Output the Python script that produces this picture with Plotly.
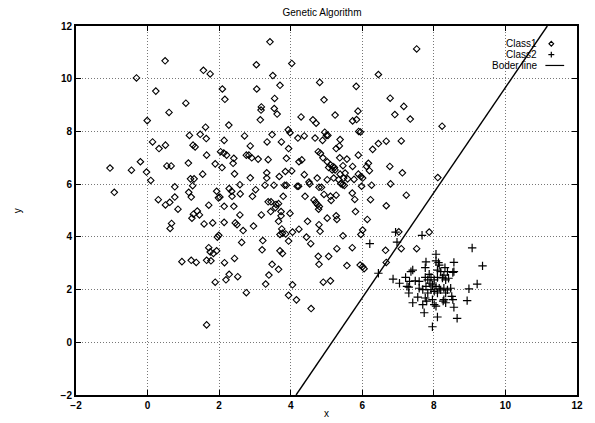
import plotly.graph_objects as go

# ---------------- data ----------------
class1_x = [0.49, -0.31, 0.23, 1.07, 0.60, -0.01, 1.17, 0.14, 0.50, 0.32, 1.27,
            3.42, 3.04, 4.03, 1.56, 1.75, 3.50, 4.81, 3.70, 2.09, 3.05, 2.16, 3.55, 4.93, 3.18, 3.17, 3.54, 3.62, 4.29, 3.15,
            4.62, 4.71, 1.62, 2.27, 1.47, 1.64, 3.93, 3.98, 3.48, 2.71, 4.95, 5.00, 4.38, 4.20, 4.68, 4.89, 2.14, 3.34, 3.74,
            2.87, 3.94, 1.33,
            7.52, 6.45, 5.83, 6.78, 7.16, 5.88, 5.24, 6.91, 5.84, 5.73, 7.34, 8.23, 5.90, 5.95, 5.04, 5.38, 5.36, 5.27, 6.45,
            6.67, 7.09, 6.29,
            -1.05, -0.20, -0.45, -0.03, 0.54, 0.66, 1.14, 0.09, 1.20, 1.30, 0.76, 1.26, -0.93, 1.15, 1.22, 0.76, 0.30, 0.62,
            0.50, 0.85, 1.39, 1.28, 1.24, 0.67, 0.63, 0.96, 1.22, 1.36,
            1.65, 2.04, 2.13, 2.21, 2.41, 2.76, 2.83, 2.91, 3.09, 3.37, 3.88, 4.23, 4.31, 4.77, 4.83, 4.90, 5.06, 1.89, 2.08,
            2.39, 1.54, 2.43, 2.87, 3.33, 3.85, 4.03, 3.68, 3.33, 4.38, 4.51, 4.74, 5.02, 1.93, 2.02, 1.98, 2.28, 2.35, 2.58,
            2.59, 2.36, 3.02, 2.93, 3.28, 3.53, 3.83, 3.88, 4.18, 4.22, 4.53, 4.79, 4.86, 4.93, 3.79, 3.37, 3.45, 3.59, 3.66,
            3.57, 4.40, 4.65, 4.70, 4.75, 4.80, 4.78, 1.71, 2.41, 2.14, 1.45, 2.58, 3.18, 3.73, 3.73, 3.44, 3.98, 3.66, 4.47,
            5.02, 4.79, 1.58, 1.82, 2.14, 2.45, 2.50, 2.96, 2.67, 1.99, 1.95, 2.63, 3.75, 3.77, 3.70, 3.86, 4.05, 4.23, 3.94,
            3.22, 4.44, 4.56, 4.82, 3.20, 3.70, 3.77, 1.71, 1.75, 1.84, 1.93, 2.43, 1.65, 1.77, 2.15, 3.48, 3.66, 4.77, 4.79,
            5.06,
            5.37, 5.57, 5.89, 5.02, 5.11, 5.18, 5.22, 5.16, 5.24, 5.46, 5.73, 6.17, 6.12, 6.20, 6.77, 7.12, 5.38, 5.52, 5.89,
            5.96, 6.01, 5.20, 5.34, 5.48, 5.59, 5.77, 5.40, 5.45, 5.50, 5.98, 6.26, 6.79, 8.11, 5.11, 5.13, 5.27, 5.72, 5.79,
            6.23, 7.23, 6.67, 5.81, 5.27, 5.29, 6.14, 6.01, 5.96, 5.46, 7.02, 7.87, 7.09, 5.29, 5.72, 6.65, 7.52, 6.67, 5.94,
            6.01, 6.05, 5.57,
            1.89, 2.19, 2.28, 2.52, 2.76, 1.65, 3.39, 3.30, 4.05, 3.94, 4.16, 4.57, 4.91, 5.11]
class1_y = [10.68, 10.03, 9.53, 9.07, 8.72, 8.41, 7.85, 7.60, 7.48, 7.35, 7.48,
            11.40, 10.53, 10.58, 10.32, 10.18, 10.12, 9.86, 9.75, 9.61, 9.61, 9.22, 9.25, 9.20, 8.93, 8.81, 8.87, 8.66, 8.55,
            8.44, 8.44, 8.31, 8.16, 8.24, 7.89, 7.73, 8.06, 7.95, 7.88, 7.83, 7.97, 7.85, 7.83, 7.75, 7.75, 7.66, 7.66, 7.60,
            7.60, 7.45, 7.35, 7.41,
            11.13, 10.16, 9.71, 9.26, 8.95, 8.77, 8.62, 8.64, 8.45, 8.40, 8.47, 8.20, 8.00, 7.98, 7.85, 7.69, 7.45, 7.35, 7.54,
            7.63, 7.64, 7.32,
            6.61, 6.85, 6.53, 6.46, 6.69, 6.69, 6.80, 6.14, 6.20, 6.20, 5.90, 5.94, 5.69, 5.69, 5.51, 5.51, 5.41, 5.31, 5.21,
            5.05, 4.98, 4.86, 4.71, 4.51, 4.32, 3.06, 3.11, 3.03,
            7.10, 7.23, 7.18, 7.10, 6.98, 7.10, 7.10, 7.00, 6.95, 6.93, 6.98, 6.85, 6.92, 7.23, 7.17, 7.00, 6.63, 6.77, 6.63,
            6.79, 6.38, 6.39, 6.24, 6.43, 6.48, 6.50, 6.29, 6.23, 6.36, 6.08, 6.23, 6.17, 5.73, 5.51, 5.48, 5.83, 5.73, 5.98,
            5.63, 5.54, 5.79, 5.54, 5.96, 5.96, 5.96, 5.96, 5.92, 5.92, 6.01, 5.88, 5.88, 5.61, 5.54, 5.33, 5.33, 5.23, 5.26,
            5.11, 5.54, 5.40, 5.30, 5.22, 5.15, 5.05, 5.20, 5.16, 5.16, 4.83, 4.83, 4.83, 4.96, 4.80, 4.96, 4.89, 4.59, 4.59,
            4.71, 4.46, 4.49, 4.53, 4.55, 4.53, 4.46, 4.41, 4.24, 4.06, 3.99, 3.79, 4.30, 4.14, 4.09, 4.11, 4.18, 4.29, 3.84,
            3.86, 3.99, 3.74, 4.21, 3.51, 3.47, 3.37, 3.59, 3.43, 3.37, 3.47, 3.18, 3.11, 3.09, 3.02, 2.96, 2.77, 3.26, 2.96,
            3.26,
            7.00, 6.95, 7.10, 6.85, 6.73, 6.67, 6.63, 6.54, 6.54, 6.70, 6.67, 6.79, 6.67, 6.51, 6.67, 6.43, 6.38, 6.42, 6.38,
            6.29, 6.23, 6.23, 6.17, 6.23, 6.20, 6.18, 6.02, 5.98, 5.95, 5.92, 5.96, 6.01, 6.25, 5.54, 5.38, 5.58, 5.66, 5.42,
            5.41, 5.58, 5.18, 4.96, 4.80, 4.66, 4.66, 4.26, 4.09, 4.04, 4.19, 4.18, 3.55, 3.55, 3.59, 3.49, 3.55, 3.03, 2.93,
            2.87, 2.79, 2.91,
            2.28, 2.37, 2.58, 2.49, 1.88, 0.66, 2.55, 2.21, 2.18, 1.78, 1.61, 1.28, 2.28, 2.33]

class2_x = [6.93, 7.67, 6.97, 6.21, 8.06, 8.06, 8.13, 7.78, 8.56, 7.41, 8.19, 8.56, 9.07, 9.36, 7.76, 6.45, 6.86, 7.21,
            7.32, 7.36, 7.04, 7.48, 7.59, 7.25, 7.30, 7.76, 7.83, 7.89, 8.01, 8.10, 8.28, 8.38, 8.41, 8.33, 8.24, 7.96,
            8.06, 8.15, 7.92, 8.01, 8.10, 8.19, 8.28, 8.38, 8.33, 8.47, 7.78, 7.69, 7.59, 7.83, 7.76, 7.80, 7.30, 7.55,
            7.41, 7.69, 7.73, 7.96, 8.01, 8.06, 8.28, 8.33, 8.26, 8.50, 8.53, 8.56, 8.10, 8.65, 7.96, 8.98, 9.21, 8.93,
            8.10, 8.15, 8.31, 8.53, 7.92, 7.87]
class2_y = [4.18, 4.06, 3.80, 3.74, 3.34, 3.09, 3.02, 3.05, 3.03, 2.74, 2.68, 2.68, 3.58, 2.90, 2.83, 2.62, 2.40, 2.46,
            2.31, 2.68, 2.24, 2.33, 2.31, 2.12, 2.09, 2.46, 2.37, 2.24, 2.37, 2.46, 2.55, 2.68, 2.43, 2.37, 2.44, 2.18,
            2.12, 2.05, 2.00, 1.93, 1.87, 1.99, 2.05, 1.99, 1.87, 2.05, 2.12, 2.00, 2.05, 1.87, 1.68, 1.56, 1.87, 1.71,
            1.50, 1.43, 1.12, 1.62, 1.43, 1.37, 1.62, 1.50, 1.56, 1.74, 1.62, 1.33, 0.96, 0.91, 0.59, 2.03, 2.21, 1.58,
            2.74, 2.93, 2.83, 2.65, 2.46, 2.58]

border_x = [4.15, 11.17]
border_y = [-2, 12]

x_ticks = [-2, 0, 2, 4, 6, 8, 10, 12]
y_ticks = [-2, 0, 2, 4, 6, 8, 10, 12]

# ---------------- layout helpers ----------------
# The page body adds an 8 px offset; the figure is sized so the plot lands on the
# reference's screen pixels (plot area 76..583 x 24..398).
OFF = 8
W, H = 595 - OFF, 423 - OFF
L, R, T, B = 76, 583, 24, 398  # screen pixels

def px(x):
    return (x - L) / (R - L)

def py(y):
    return (B - y) / (B - T)

FONT = "Liberation Sans, Arial, Helvetica, sans-serif"

fig = go.Figure()
fig.add_trace(go.Scatter(x=class1_x, y=class1_y, mode="markers", name="Class1",
                         marker=dict(symbol="diamond-open", size=5, color="black",
                                     line=dict(width=1.1, color="black"))))
fig.add_trace(go.Scatter(x=class2_x, y=class2_y, mode="markers", name="Class2",
                         marker=dict(symbol="cross-thin-open", size=6, color="black",
                                     line=dict(width=1.2, color="black"))))
fig.add_trace(go.Scatter(x=border_x, y=border_y, mode="lines", name="Boder line",
                         line=dict(color="black", width=1.4)))

axis_common = dict(showgrid=True, gridcolor="#777777", griddash="1px,2px", gridwidth=1,
                   zeroline=False, showline=True, linecolor="black", linewidth=2,
                   mirror="ticks", ticks="inside", ticklen=5, tickcolor="black",
                   tickfont=dict(family=FONT, size=10, color="black", weight="bold"))

fig.update_layout(
    width=W, height=H,
    margin=dict(l=L - OFF, r=595 - R, t=T - OFF, b=423 - B),
    paper_bgcolor="white", plot_bgcolor="white",
    showlegend=False,
    title=dict(text="Genetic Algorithm", x=(322 - OFF) / W, xanchor="center",
               y=1 - (12 - OFF) / H, yanchor="middle",
               font=dict(family=FONT, size=10, color="black")),
    xaxis=dict(range=[-2, 12], tickvals=x_ticks, **axis_common),
    yaxis=dict(range=[-2, 12], tickvals=y_ticks, **axis_common),
)

ann = []
# axis titles
ann.append(dict(text="x", xref="paper", yref="paper", x=0.5, y=py(417), xanchor="center", yanchor="middle",
                showarrow=False, font=dict(family=FONT, size=10, color="black")))
ann.append(dict(text="y", xref="paper", yref="paper", x=px(17), y=py(211), xanchor="center", yanchor="middle",
                textangle=-90, showarrow=False, font=dict(family=FONT, size=10, color="black")))
# legend texts
for label, yy in [("Class1", 42), ("Class2", 53), ("Boder line", 64)]:
    ann.append(dict(text=label, xref="paper", yref="paper", x=px(545), y=py(yy), xanchor="right",
                    yanchor="middle", showarrow=False, font=dict(family=FONT, size=10, color="black")))
fig.update_layout(annotations=ann)

# legend samples
cx, cy, s = 557, 42, 2.4
fig.add_shape(type="path", xref="paper", yref="paper",
              path=f"M {px(cx)},{py(cy - s)} L {px(cx + s)},{py(cy)} L {px(cx)},{py(cy + s)} L {px(cx - s)},{py(cy)} Z",
              line=dict(color="black", width=1.1))
cx, cy, s = 557, 53, 3.0
fig.add_shape(type="line", xref="paper", yref="paper", x0=px(cx - s), x1=px(cx + s), y0=py(cy), y1=py(cy),
              line=dict(color="black", width=1.2))
fig.add_shape(type="line", xref="paper", yref="paper", x0=px(cx), x1=px(cx), y0=py(cy - s), y1=py(cy + s),
              line=dict(color="black", width=1.2))
fig.add_shape(type="line", xref="paper", yref="paper", x0=px(551), x1=px(570), y0=py(64), y1=py(64),
              line=dict(color="black", width=1.2))

fig.write_html("out.html")
